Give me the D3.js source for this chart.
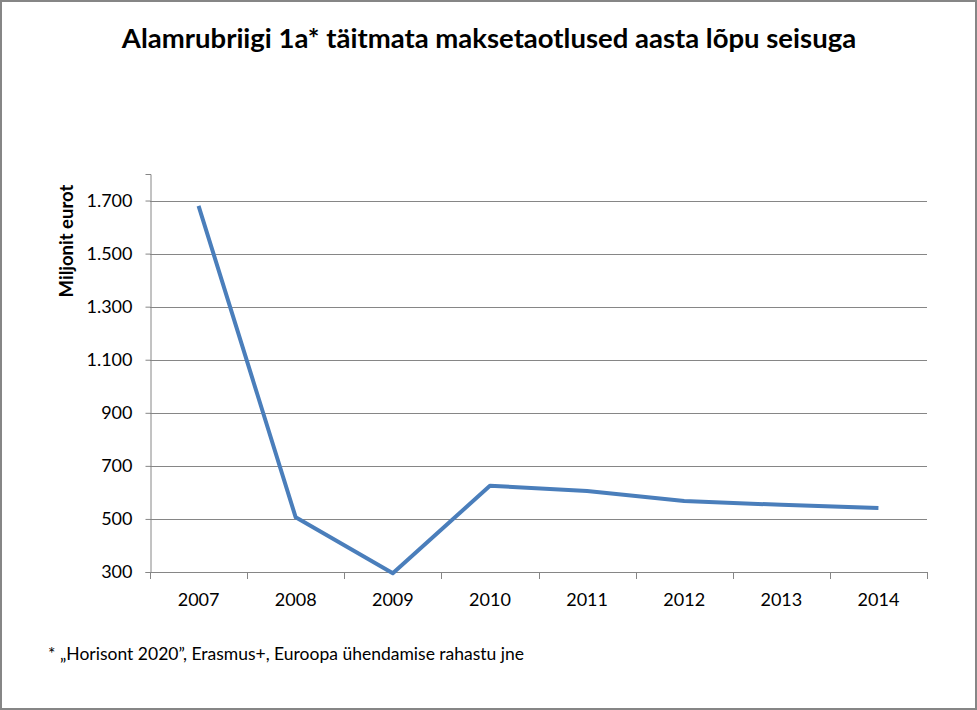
<!DOCTYPE html>
<html>
<head>
<meta charset="utf-8">
<script src="https://cdn.jsdelivr.net/npm/d3@7"></script>
<style>
  html, body { margin: 0; padding: 0; background: #fff; }
  svg { display: block; font-family: Lato, "Open Sans", sans-serif; }
</style>
</head>
<body>
<svg id="chart"></svg>
<script>
  const years = ["2007", "2008", "2009", "2010", "2011", "2012", "2013", "2014"];
  const values = [1680, 506, 295, 625, 605, 568, 553, 541];
  const yTicks = [300, 500, 700, 900, 1100, 1300, 1500, 1700];

  const width = 977;
  const height = 710;
  const margin = {top: 174, right: 50, bottom: 138, left: 150};

  const svg = d3.select("#chart")
      .attr("width", width)
      .attr("height", height);

  // outer frame
  svg.append("rect")
      .attr("x", 1).attr("y", 1)
      .attr("width", width - 2).attr("height", height - 2)
      .attr("fill", "#fff")
      .attr("stroke", "#868686")
      .attr("stroke-width", 2);

  const x = d3.scaleBand()
      .domain(years)
      .range([margin.left, width - margin.right]);

  const y = d3.scaleLinear()
      .domain([300, 1800])
      .range([height - margin.bottom, margin.top]);

  // gridlines
  svg.append("g")
      .selectAll("line")
      .data(yTicks.slice(1))
      .enter().append("line")
      .attr("x1", margin.left)
      .attr("x2", width - margin.right)
      .attr("y1", d => Math.round(y(d)) + 0.5)
      .attr("y2", d => Math.round(y(d)) + 0.5)
      .attr("stroke", "#868686");

  const fmt = d => d3.format(",")(d).replace(/,/g, ".");

  const yAxis = svg.append("g")
      .attr("transform", `translate(${margin.left + 0.5},0)`)
      .call(d3.axisLeft(y).tickValues(yTicks).tickSize(5).tickPadding(13).tickFormat(fmt));
  yAxis.select(".domain").attr("stroke", "#868686");
  yAxis.selectAll(".tick line").attr("stroke", "#868686");
  yAxis.selectAll("text").attr("font-size", 18).attr("fill", "#000")
      .attr("font-family", "Lato, sans-serif");

  const xAxis = svg.append("g")
      .attr("transform", `translate(0,${Math.round(y(300)) + 0.5})`)
      .call(d3.axisBottom(x).tickSize(0).tickPadding(21));
  xAxis.select(".domain").attr("stroke", "#868686")
      .attr("d", `M${margin.left},0H${width - margin.right}`);
  xAxis.selectAll("text").attr("font-size", 18).attr("fill", "#000")
      .attr("font-family", "Lato, sans-serif");

  // category boundary ticks
  svg.append("g")
      .selectAll("line")
      .data(years.concat(["end"]))
      .enter().append("line")
      .attr("x1", (d, i) => Math.round(margin.left + i * x.step()) + 0.5)
      .attr("x2", (d, i) => Math.round(margin.left + i * x.step()) + 0.5)
      .attr("y1", y(300))
      .attr("y2", y(300) + 7)
      .attr("stroke", "#868686");

  const line = d3.line()
      .x((d, i) => x(years[i]) + x.bandwidth() / 2)
      .y(d => y(d));

  svg.append("path")
      .datum(values)
      .attr("d", line)
      .attr("fill", "none")
      .attr("stroke", "#4a7ebb")
      .attr("stroke-width", 4)
      .attr("stroke-linejoin", "round");

  svg.append("text")
      .attr("x", 489)
      .attr("y", 48)
      .attr("text-anchor", "middle")
      .attr("font-size", 27.5)
      .attr("font-weight", "bold")
      .text("Alamrubriigi 1a* täitmata maksetaotlused aasta lõpu seisuga");

  svg.append("text")
      .attr("transform", `translate(73,241) rotate(-90)`)
      .attr("text-anchor", "middle")
      .attr("font-size", 18.5)
      .attr("font-weight", "bold")
      .text("Miljonit eurot");

  svg.append("text")
      .attr("x", 48)
      .attr("y", 660)
      .attr("font-size", 17.5)
      .text("* „Horisont 2020”, Erasmus+, Euroopa ühendamise rahastu jne");
</script>
</body>
</html>
